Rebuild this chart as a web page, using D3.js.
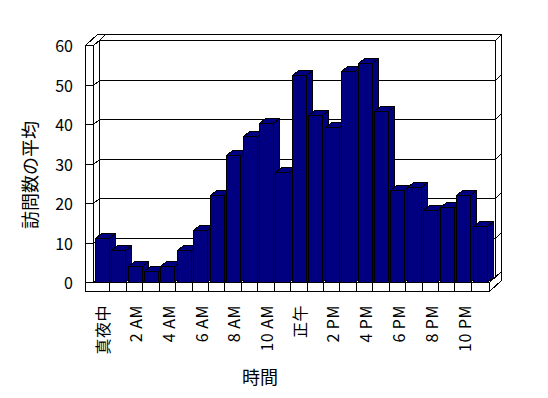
<!DOCTYPE html>
<html>
<head>
<meta charset="utf-8">
<script src="https://cdn.jsdelivr.net/npm/d3@7"></script>
<style>
    body { margin: 0; background: #fff; }
    svg text { font-family: "Noto Sans CJK JP", sans-serif; fill: #000; }
</style>
</head>
<body>
<div id="chart"></div>
<script>
// Daten
const hours = ["真夜中", "1 AM", "2 AM", "3 AM", "4 AM", "5 AM", "6 AM", "7 AM", "8 AM", "9 AM", "10 AM", "11 AM",
    "正午", "1 PM", "2 PM", "3 PM", "4 PM", "5 PM", "6 PM", "7 PM", "8 PM", "9 PM", "10 PM", "11 PM"];
const tickHours = ["真夜中", "2 AM", "4 AM", "6 AM", "8 AM", "10 AM", "正午", "2 PM", "4 PM", "6 PM", "8 PM", "10 PM"];
const visits = [11.1, 8.1, 4.1, 2.9, 4.1, 8.1, 13.2, 22.0, 32.2, 37.0, 40.2, 27.9,
    52.4, 42.3, 39.3, 53.4, 55.4, 43.3, 23.3, 24.0, 18.2, 19.1, 22.0, 14.2];
const yTicks = [0, 10, 20, 30, 40, 50, 60];
const yTitle = "訪問数の平均";
const xTitle = "時間";

const width = 548, height = 398;
const dx = 6, dy = -5;      // Tiefe (Vorderseite -> Rueckwand)
const wx = 6, wy = -6;      // Wandstaerke
const pLeft = 93, pRight = 489, pBottom = 282, pTop = 45;
const outerL = 85, floorB = 291;

const svg = d3.select("#chart")
    .append("svg")
    .attr("width", width)
    .attr("height", height);

const g = svg.append("g").attr("transform", "translate(0.5,0.5)")
    .attr("shape-rendering", "crispEdges");

const xx = d3.scaleBand().domain(hours).range([pLeft, pRight]).padding(0.1);
const yy = d3.scaleLinear().domain([0, 60]).rangeRound([pBottom, pTop]);

const line = (pts) => "M" + pts.map(p => p.join(",")).join("L");
const poly = (pts) => line(pts) + "Z";

const bx0 = pLeft + dx, bx1 = pRight + dx;       // Rueckwand innen
const yb = v => yy(v) + dy;

// Rueckwand
g.append("path").attr("d", poly([[bx0, yb(60)], [bx1, yb(60)], [bx1, yb(0)], [bx0, yb(0)]]))
    .attr("fill", "white").attr("stroke", "black");
// Oberkante Rueckwand / Seitenwand
g.append("path").attr("d", poly([[outerL, pTop], [pLeft, pTop], [bx0, yb(60)], [bx1, yb(60)], [bx1 + wx, yb(60) + wy], [outerL + dx + wx, yb(60) + wy]]))
    .attr("fill", "white").attr("stroke", "black");
g.append("path").attr("d", line([[bx0, yb(60)], [bx0 + wx, yb(60) + wy]]))
    .attr("fill", "none").attr("stroke", "black");
// rechte Stirnseite der Rueckwand
g.append("path").attr("d", poly([[bx1, yb(60)], [bx1 + wx, yb(60) + wy], [bx1 + wx, yb(0) + wy], [bx1, yb(0)]]))
    .attr("fill", "white").attr("stroke", "black");
// Seitenwand
g.append("path").attr("d", poly([[outerL, pTop], [pLeft, pTop], [pLeft, floorB], [outerL, floorB]]))
    .attr("fill", "white").attr("stroke", "black");
g.append("path").attr("d", poly([[pLeft, pTop], [bx0, yb(60)], [bx0, yb(0)], [pLeft, pBottom]]))
    .attr("fill", "white").attr("stroke", "black");

// Gitterlinien
yTicks.forEach(v => {
    g.append("path")
        .attr("d", line([[outerL, yy(v)], [pLeft, yy(v)], [bx0, yb(v)], [bx1, yb(v)], [bx1 + wx, yb(v) + wy]]))
        .attr("fill", "none").attr("stroke", "black");
});

// Boden
g.append("path").attr("d", poly([[pLeft, pBottom], [bx0, yb(0)], [bx1, yb(0)], [pRight, pBottom]]))
    .attr("fill", "white").attr("stroke", "black");
g.append("rect").attr("x", outerL).attr("y", pBottom).attr("width", pRight - outerL).attr("height", floorB - pBottom)
    .attr("fill", "white").attr("stroke", "black");
g.append("path").attr("d", poly([[pRight, pBottom], [pRight + dx + wx, pBottom + dy + wy], [pRight + dx + wx, floorB + dy + wy], [pRight, floorB]]))
    .attr("fill", "white").attr("stroke", "black");
hours.slice(0, -1).forEach(h => {
    const sx = Math.round(xx(h) + xx.bandwidth());
    g.append("line").attr("x1", sx).attr("x2", sx).attr("y1", pBottom).attr("y2", floorB).attr("stroke", "black");
});

// Saeulen
const bw = 14;
hours.forEach((h, i) => {
    const x0 = Math.round(xx(h)), x1 = x0 + bw, y0 = yy(visits[i]);
    const bar = g.append("g").attr("fill", "#000080").attr("stroke", "black");
    bar.append("path").attr("d", poly([[x1, y0], [x1 + dx, y0 + dy], [x1 + dx, pBottom + dy], [x1, pBottom]]));
    bar.append("path").attr("d", poly([[x0, y0], [x0 + dx, y0 + dy], [x1 + dx, y0 + dy], [x1, y0]]));
    bar.append("rect").attr("x", x0).attr("y", y0).attr("width", bw).attr("height", pBottom - y0);
});

// Achsenbeschriftung
svg.selectAll(".ytick").data(yTicks).enter().append("text")
    .attr("x", 73).attr("y", d => yy(d))
    .attr("text-anchor", "end").attr("dominant-baseline", "central")
    .style("font-size", "16px").text(d => d);

svg.selectAll(".xtick").data(tickHours).enter().append("text")
    .attr("transform", d => `translate(${xx(d) + xx.bandwidth() / 2},305) rotate(-90)`)
    .attr("text-anchor", "end").attr("dominant-baseline", "central")
    .style("font-size", "16px").style("letter-spacing", "0.5px").text(d => d);

svg.append("text").attr("x", 260).attr("y", 376)
    .attr("text-anchor", "middle").attr("dominant-baseline", "central")
    .style("font-size", "18px").text(xTitle);

svg.append("text").attr("transform", "translate(29,175) rotate(-90)")
    .attr("text-anchor", "middle").attr("dominant-baseline", "central")
    .style("font-size", "18px").text(yTitle);
</script>
</body>
</html>
